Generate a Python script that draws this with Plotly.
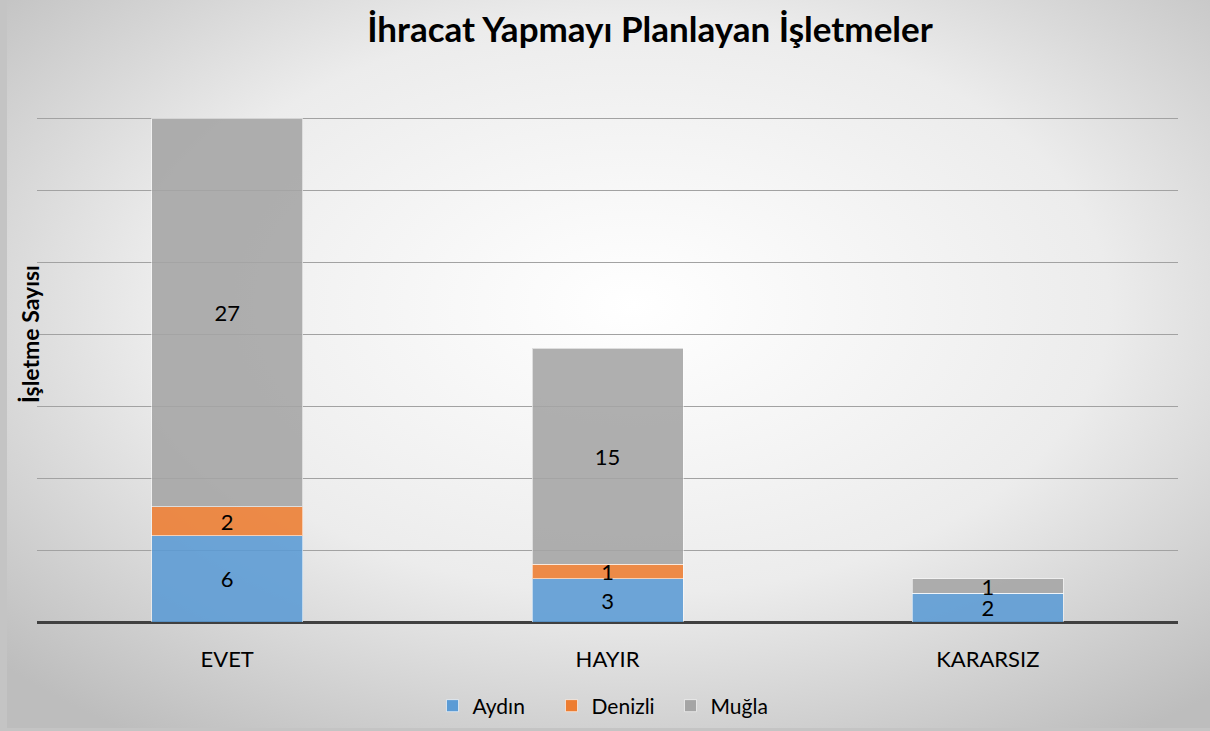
import plotly.graph_objects as go
import urllib.parse

categories = ["EVET", "HAYIR", "KARARSIZ"]
aydin = [6, 3, 2]
denizli = [2, 1, 0]
mugla = [27, 15, 1]
series_names = ["Aydın", "Denizli", "Muğla"]
colors = ["#5B9BD5", "#ED7D31", "#A5A5A5"]

W, H = 1210, 731
L, R, T, B = 37, 32, 114, 109
pw, ph = W - L - R, H - T - B
ymax = ph / 14.4  # 35 units span 504 px

svg = (
    f'<svg xmlns="http://www.w3.org/2000/svg" width="{W}" height="{H}">'
    '<defs><radialGradient id="g" cx="52%" cy="42%" r="72%" fx="52%" fy="42%">'
    '<stop offset="0%" stop-color="#ffffff"/><stop offset="55%" stop-color="#ececec"/>'
    '<stop offset="100%" stop-color="#bdbdbd"/></radialGradient></defs>'
    f'<rect x="0" y="0" width="{W}" height="{H}" fill="#c4c4c4"/>'
    f'<rect x="7" y="0" width="{W-7}" height="{H-3}" fill="url(#g)"/>'
    '</svg>'
)
src = "data:image/svg+xml;charset=utf-8," + urllib.parse.quote(svg)

fig = go.Figure()
for name, vals, col in zip(series_names, [aydin, denizli, mugla], colors):
    fig.add_trace(go.Bar(
        x=categories, y=vals, name=name,
        marker=dict(color=col, opacity=0.88, line=dict(color="rgba(255,255,255,0.6)", width=1)),
        text=[str(v) if v else "" for v in vals],
        textposition="inside", insidetextanchor="middle", textangle=0,
        textfont=dict(family="Lato, sans-serif", size=22, color="black"),
        constraintext="none",
        hoverinfo="skip",
    ))

fig.update_layout(
    width=W, height=H, autosize=False,
    barmode="stack", bargap=0.603,
    margin=dict(l=L, r=R, t=T, b=B, autoexpand=False),
    paper_bgcolor="rgba(0,0,0,0)", plot_bgcolor="rgba(0,0,0,0)",
    font=dict(family="Lato, sans-serif", color="black"),
    title=dict(text="<b>İhracat Yapmayı Planlayan İşletmeler</b>",
               x=650 / W, xanchor="center", y=1 - 30 / H, yanchor="middle",
               font=dict(size=35, family="Lato, sans-serif", color="black")),
    showlegend=True,
    legend=dict(orientation="h", x=(611 - L) / pw, xanchor="center",
                y=-(706 - 622) / ph, yanchor="middle", traceorder="normal",
                entrywidth=74, entrywidthmode="pixels",
                font=dict(size=21), bgcolor="rgba(0,0,0,0)"),
    xaxis=dict(showgrid=False, tickfont=dict(size=22), ticks="", showline=False,
               zeroline=False, ticklabelstandoff=22),
    yaxis=dict(range=[0, ymax], dtick=5, showgrid=True, gridcolor="#a2a2a2", gridwidth=1,
               showticklabels=False, zeroline=True, zerolinecolor="#404040", zerolinewidth=3,
               showline=False),
    images=[dict(source=src, xref="paper", yref="paper", x=-L / pw, y=1 + T / ph,
                 sizex=W / pw, sizey=H / ph, xanchor="left", yanchor="top",
                 sizing="stretch", layer="below")],
    annotations=[dict(text="<b>İşletme Sayısı</b>", textangle=-90, xref="paper", yref="paper",
                      x=-(L - 30) / pw, y=(622 - 334) / ph, xanchor="center", yanchor="middle",
                      showarrow=False, font=dict(size=23, color="black"))],
)
fig.write_html("out.html", config={"displayModeBar": False},
               post_script="document.body.style.margin='0';document.body.style.overflow='hidden';")
